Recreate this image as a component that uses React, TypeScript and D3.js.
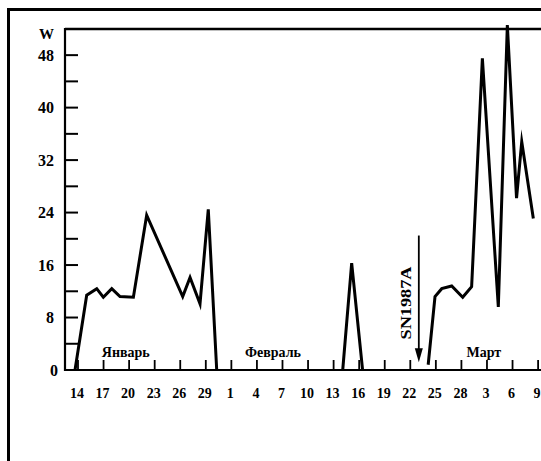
import React from 'react';
import * as d3 from 'd3';

// Day index: 0 = 14 January 1987
const tickDays = [0, 3, 6, 9, 12, 15, 18, 21, 24, 27, 30, 33, 36, 39, 42, 45, 48, 51, 54];
const tickLabels = ['14', '17', '20', '23', '26', '29', '1', '4', '7', '10', '13', '16', '19', '22', '25', '28', '3', '6', '9'];
const yMajor = [0, 8, 16, 24, 32, 40, 48];
const yMinor = [4, 12, 20, 28, 36, 44];
const months = [
  { name: 'Январь', day: 2.8 },
  { name: 'Февраль', day: 19.6 },
  { name: 'Март', day: 45.6 },
];
// null marks a break in the drawn line
const seriesDays = [-0.35, 1.02, 2.2, 2.97, 3.96, 4.93, 6.5, 8.06, 12.29, 13.15, 14.32, 15.29, 16.28, null, 31.07, 32.12, 33.4, null, 41.1, 41.9, 42.69, 43.86, 45.15, 46.2, 47.46, 49.33, 50.39, 51.47, 52.08, 53.44];
const seriesValues = [0, 11.4, 12.4, 11.1, 12.4, 11.2, 11.1, 23.6, 11.2, 14.1, 10.1, 24.5, 0, null, 0, 16.3, 0, null, 0.8, 11.2, 12.4, 12.8, 11.1, 12.7, 47.5, 9.6, 52.6, 26.2, 34.8, 23.1];
const snDay = 40;
const snLabel = 'SN1987A';
const snTop = 20.5;
const snTip = 1.2;
const yTopValue = 52;

export default function App() {
  const x = d3.scaleLinear().domain([0, 54]).range([78, 538.1]);
  const y = d3.scaleLinear().domain([0, yTopValue]).range([370, 28.9]);
  const axisX = 65;
  const rightEdge = 560;
  const font = '"Liberation Serif", "DejaVu Serif", serif';

  const pts = seriesDays.map((d, i) => ({ d, v: seriesValues[i] }));
  const line =
    d3
      .line<{ d: number | null; v: number | null }>()
      .defined(p => p.d !== null && p.v !== null)
      .x(p => x(p.d as number))
      .y(p => y(p.v as number))(pts) || '';

  const sx = x(snDay);
  const arrowTipY = y(snTip);
  const arrowTop = y(snTop);

  return (
    <svg
      width={541}
      height={461}
      style={{ position: 'absolute', left: 0, top: 0, background: '#fff' }}
      fontFamily={font}
    >
      <rect x={0} y={0} width={541} height={461} fill="#fff" />
      {/* outer frame */}
      <rect x={8.5} y={9.5} width={600} height={600} fill="none" stroke="#000" strokeWidth={3} />
      {/* top line */}
      <line x1={axisX} x2={rightEdge} y1={y(yTopValue)} y2={y(yTopValue)} stroke="#000" strokeWidth={2.5} />
      {/* y axis */}
      <line x1={axisX} x2={axisX} y1={y(yTopValue) - 1} y2={y(0) + 1} stroke="#000" strokeWidth={2.2} />
      {/* x axis */}
      <line x1={axisX} x2={rightEdge} y1={y(0)} y2={y(0)} stroke="#000" strokeWidth={2.2} />
      {yMajor.concat(yMinor).filter(v => v > 0).map(v => (
        <line key={'yt' + v} x1={axisX} x2={axisX + 13} y1={y(v)} y2={y(v)} stroke="#000" strokeWidth={2} />
      ))}
      {yMajor.map(v => (
        <text key={'yl' + v} x={v === 0 ? 58 : 54} y={y(v) + 5.5} textAnchor="end" fontSize={16} fontWeight="bold">
          {v}
        </text>
      ))}
      <text x={54} y={39} textAnchor="end" fontSize={15} fontWeight="bold">W</text>
      {tickDays.map((d, i) => (
        <g key={'xt' + d}>
          <line x1={x(d)} x2={x(d)} y1={y(0)} y2={y(0) - 10} stroke="#000" strokeWidth={1.8} />
          <text x={x(d) - 1} y={398} textAnchor="middle" fontSize={14} fontWeight="bold">
            {tickLabels[i]}
          </text>
        </g>
      ))}
      {months.map(m => (
        <text key={m.name} x={x(m.day)} y={357} fontSize={14} fontWeight="bold">
          {m.name}
        </text>
      ))}
      <path d={line} fill="none" stroke="#000" strokeWidth={3} strokeLinejoin="miter" strokeMiterlimit={10} />
      {/* SN1987A arrow */}
      <line x1={sx} x2={sx} y1={arrowTop} y2={arrowTipY - 10} stroke="#000" strokeWidth={1.8} />
      <path d={`M${sx - 4},${arrowTipY - 14} L${sx + 4},${arrowTipY - 14} L${sx},${arrowTipY} Z`} fill="#000" />
      <text
        transform={`translate(${sx - 8},303) rotate(-90)`}
        textAnchor="middle"
        fontSize={15}
        fontWeight="bold"
        textLength={73}
        lengthAdjust="spacingAndGlyphs"
      >
        {snLabel}
      </text>
    </svg>
  );
}
